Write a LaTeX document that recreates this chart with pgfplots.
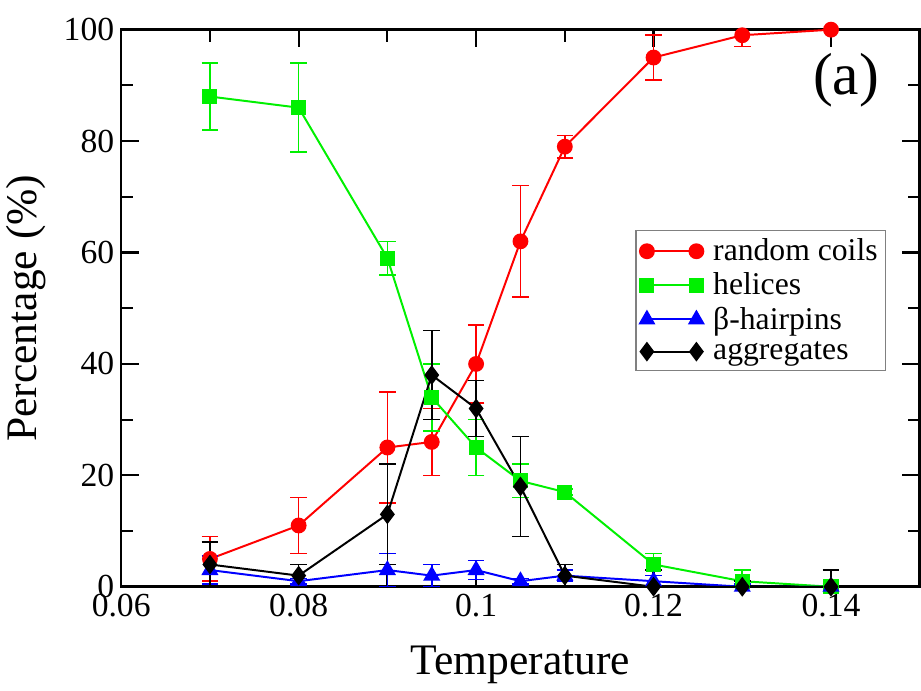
\documentclass[border=0pt]{standalone}
\usepackage{pgfplots}
\usepackage{pgfplotstable}
\pgfplotsset{compat=1.18}
\usepackage{fontspec}
\setmainfont{Liberation Serif}
\definecolor{cred}{RGB}{255,0,0}
\definecolor{cgreen}{RGB}{0,240,0}
\definecolor{cblue}{RGB}{0,0,255}

\pgfplotstableread{
x y e
0.07 5 4
0.08 11 5
0.09 25 10
0.095 26 6
0.1 40 7
0.105 62 10
0.11 79 2
0.12 95 4
0.13 99 2
0.14 100 0
}\coils
\pgfplotstableread{
x y e
0.07 88 6
0.08 86 8
0.09 59 3
0.095 34 6
0.1 25 5
0.105 19 3
0.11 17 0.5
0.12 4 2
0.13 1 2
0.14 0 0
}\helices
\pgfplotstableread{
x y e
0.07 3 2.5
0.08 1 0.5
0.09 3 3
0.095 2 2
0.1 3 1.7
0.105 1 0.5
0.11 2 1
0.12 1 1
0.13 0 0.5
0.14 0 0.5
}\hairpins
\pgfplotstableread{
x y e
0.07 4 4
0.08 2 2
0.09 13 9
0.095 38 8
0.1 32 5
0.105 18 9
0.11 2 2
0.12 0 3
0.13 0 1
0.14 0 3
}\aggregates

\begin{document}
\begin{tikzpicture}
\begin{axis}[name=ax,
  width=403.5pt, height=281.5pt, scale only axis,
  xmin=0.06, xmax=0.15, ymin=0, ymax=100,
  xtick={0.06,0.08,0.1,0.12,0.14},
  ytick={0,20,40,60,80,100},
  minor x tick num=1, minor y tick num=1,
  scaled x ticks=false,
  xticklabel style={/pgf/number format/fixed, /pgf/number format/precision=2},
  /pgf/number format/assume math mode=true,
  tick align=inside,
  major tick length=9pt, minor tick length=6pt,
  every tick/.style={line width=1.1pt, black},
  axis line style={line width=1.3pt},
  ticklabel style={font=\fontsize{17}{20}\selectfont},
  xlabel={Temperature}, ylabel={Percentage (\%)},
  label style={font=\fontsize{22}{26}\selectfont},
  xlabel style={yshift=-8pt},
  ylabel style={yshift=2pt},
  legend style={at={(0.958,0.641)}, anchor=north east, draw=gray, line width=0.6pt,
    font=\fontsize{16}{19}\selectfont, row sep=0pt, inner sep=2pt,
    nodes={inner xsep=2pt, inner ysep=2.3pt}},
  legend cell align=left,
  legend image code/.code={\draw[#1, line width=1pt] plot coordinates {(0pt,0pt) (25pt,0pt)};},
  every axis plot/.append style={line width=1pt},
  error bars/error bar style={line width=0.8pt},
  error bars/error mark options={rotate=90, mark size=4.2pt, line width=0.8pt},
]
\addplot[cred, mark=*, mark size=3.5pt, mark options={solid},
  error bars/.cd, y dir=both, y explicit] table[x=x, y=y, y error=e] {\coils};
\addlegendentry{\hspace{3pt}random coils}
\addplot[cgreen, mark=square*, mark size=3.3pt,
  error bars/.cd, y dir=both, y explicit] table[x=x, y=y, y error=e] {\helices};
\addlegendentry{\hspace{3pt}helices}
\addplot[cblue, mark=triangle*, mark size=4pt,
  error bars/.cd, y dir=both, y explicit] table[x=x, y=y, y error=e] {\hairpins};
\addlegendentry{\hspace{3pt}β-hairpins}
\addplot[black, mark=diamond*, mark size=4.2pt,
  error bars/.cd, y dir=both, y explicit] table[x=x, y=y, y error=e] {\aggregates};
\addlegendentry{\hspace{3pt}aggregates}
\node[font=\fontsize{30}{34}\selectfont] at (axis cs:0.1417,91) {(a)};
\end{axis}
\path (ax.north) ++(0,15pt) coordinate (t);
\path (ax.south) ++(0,-52.5pt) coordinate (b);
\end{tikzpicture}
\end{document}
